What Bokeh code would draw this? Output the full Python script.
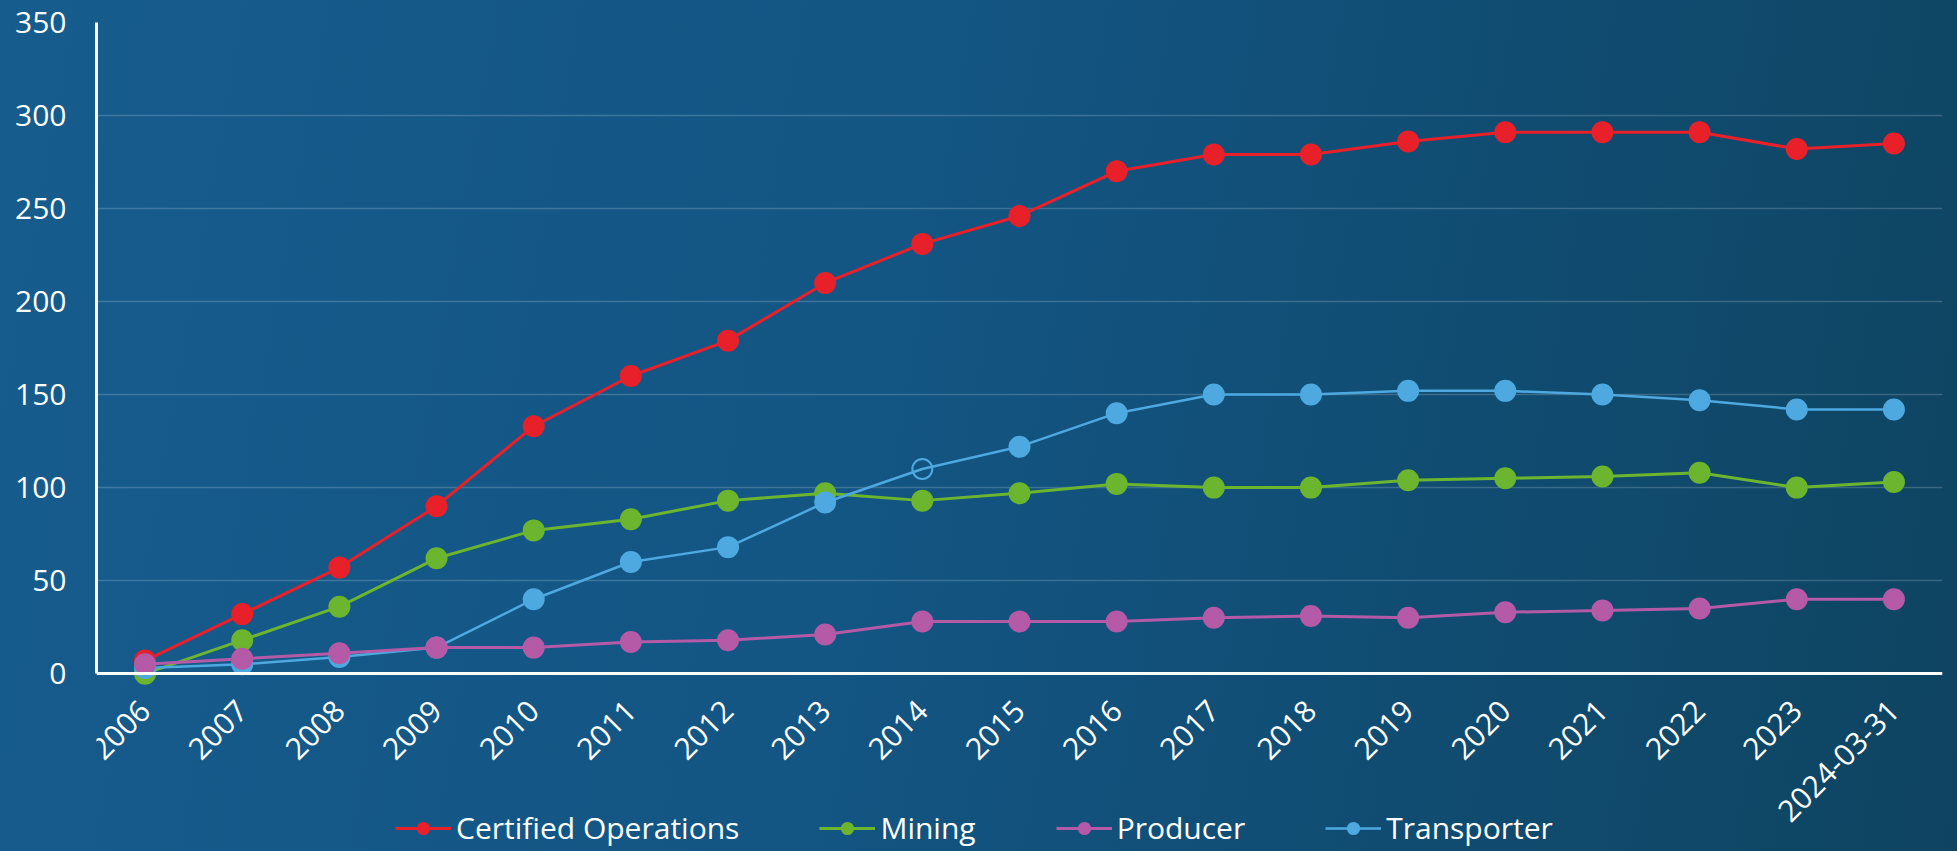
from math import pi
from bokeh.plotting import figure
from bokeh.models import (ColumnDataSource, FactorRange, Range1d, Legend, LegendItem,
                          GlobalInlineStyleSheet, FixedTicker)
from bokeh.embed import file_html
from bokeh.resources import INLINE

periods = ["2006", "2007", "2008", "2009", "2010", "2011", "2012", "2013", "2014",
           "2015", "2016", "2017", "2018", "2019", "2020", "2021", "2022", "2023",
           "2024-03-31"]
certified = [7, 32, 57, 90, 133, 160, 179, 210, 231, 246, 270, 279, 279, 286, 291, 291, 291, 282, 285]
mining = [0, 18, 36, 62, 77, 83, 93, 97, 93, 97, 102, 100, 100, 104, 105, 106, 108, 100, 103]
producer = [5, 8, 11, 14, 14, 17, 18, 21, 28, 28, 28, 30, 31, 30, 33, 34, 35, 40, 40]
transporter = [3, 5, 9, 14, 40, 60, 68, 92, 110, 122, 140, 150, 150, 152, 152, 150, 147, 142, 142]
y_ticks = [0, 50, 100, 150, 200, 250, 300, 350]

FONT = "Open Sans"

p = figure(width=1957, height=851, output_backend="svg", toolbar_location=None,
           x_range=FactorRange(factors=periods, range_padding=0),
           y_range=Range1d(-95.6, 350))
p.min_border_left = 96
p.min_border_right = 15
p.min_border_top = 22
p.min_border_bottom = 0
p.background_fill_color = None
p.border_fill_color = None
p.outline_line_color = None
p.stylesheets = [GlobalInlineStyleSheet(
    css="html{min-height:100%;background:linear-gradient(100deg,#165c8d 0%,#135583 45%,#0e4461 100%);}")]

p.xgrid.grid_line_color = None
p.ygrid.grid_line_color = "white"
p.ygrid.grid_line_alpha = 0.18
p.ygrid.grid_line_width = 1.5
p.yaxis.ticker = FixedTicker(ticks=y_ticks)
p.yaxis.bounds = (0, 350)
p.xaxis.fixed_location = 0

for ax in (p.xaxis, p.yaxis):
    ax.axis_line_color = "white"
    ax.axis_line_width = 3
    ax.major_tick_line_color = None
    ax.minor_tick_line_color = None
    ax.major_label_text_color = "white"
    ax.major_label_text_font = FONT
    ax.major_label_text_font_size = "30px"
p.yaxis.major_label_standoff = 24
p.xaxis.major_label_standoff = 26
p.xaxis.major_label_orientation = pi / 4

series = [
    ("Certified Operations", certified, "#e8202a", 3),
    ("Mining", mining, "#6cb52e", 3),
    ("Transporter", transporter, "#4ea9e0", 2.5),
    ("Producer", producer, "#b55aa7", 3),
]
renderers = {}
for name, vals, color, lw in series:
    alphas = [1.0] * len(vals)
    if name == "Transporter":
        alphas[8] = 0.0
    src = ColumnDataSource(dict(x=periods, y=vals, a=alphas))
    ln = p.line("x", "y", source=src, line_color=color, line_width=lw)
    sc = p.scatter("x", "y", source=src, size=20, fill_color=color, fill_alpha="a",
                   line_color=color, line_width=2)
    renderers[name] = [ln, sc]

order = ["Certified Operations", "Mining", "Producer", "Transporter"]
legend = Legend(items=[LegendItem(label=n, renderers=renderers[n]) for n in order],
                orientation="horizontal", location=(299, 3),
                background_fill_alpha=0, border_line_alpha=0,
                label_text_color="white", label_text_font=FONT,
                label_text_font_size="30px", glyph_width=56, glyph_height=28,
                label_height=28, label_standoff=5, spacing=80, padding=0, margin=0)
p.add_layout(legend, "center")

open("out.html", "w").write(file_html(p, INLINE))
